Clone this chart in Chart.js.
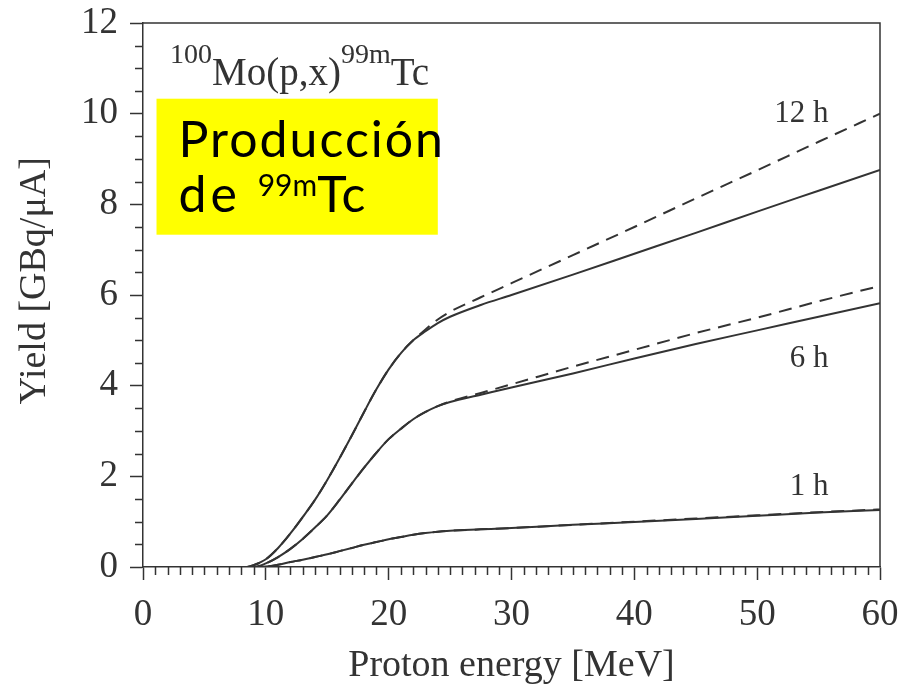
<!DOCTYPE html>
<html>
<head>
<meta charset="utf-8">
<script src="https://cdn.jsdelivr.net/npm/chart.js@4.4.1/dist/chart.umd.min.js"></script>
<style>
  html, body { margin: 0; padding: 0; background: #fff; }
  #wrap { width: 920px; height: 689px; }
</style>
</head>
<body>
<div id="wrap"><canvas id="chart" width="920" height="689"></canvas></div>
<script>
// proton energy grid [MeV]
const energy = [8.5, 9, 10, 11, 12, 13, 14, 15, 16, 17, 18, 19, 20, 21, 22, 23, 24, 25, 27.5, 30, 35, 40, 45, 50, 55, 60];

// yields [GBq/uA]
const solid12h  = [0, 0.04, 0.17, 0.42, 0.74, 1.1, 1.48, 1.92, 2.4, 2.9, 3.42, 3.92, 4.36, 4.72, 5.0, 5.2, 5.38, 5.52, 5.78, 6.0, 6.45, 6.91, 7.37, 7.84, 8.3, 8.76];
const dashed12h = [0, 0.04, 0.17, 0.42, 0.74, 1.1, 1.48, 1.92, 2.4, 2.9, 3.42, 3.92, 4.36, 4.72, 5.0, 5.24, 5.46, 5.63, 5.95, 6.26, 6.88, 7.5, 8.13, 8.75, 9.38, 10.0];
const solid6h   = [0, 0, 0.08, 0.22, 0.4, 0.62, 0.87, 1.14, 1.48, 1.84, 2.19, 2.52, 2.82, 3.05, 3.26, 3.42, 3.55, 3.64, 3.8, 3.96, 4.27, 4.6, 4.92, 5.22, 5.52, 5.82];
const dashed6h  = [0, 0, 0.08, 0.22, 0.4, 0.62, 0.87, 1.14, 1.48, 1.84, 2.19, 2.52, 2.82, 3.05, 3.26, 3.42, 3.55, 3.65, 3.84, 4.03, 4.42, 4.79, 5.16, 5.5, 5.86, 6.2];
const solid1h   = [0, 0, 0.01, 0.05, 0.11, 0.16, 0.22, 0.28, 0.35, 0.42, 0.49, 0.55, 0.61, 0.66, 0.71, 0.75, 0.78, 0.8, 0.83, 0.86, 0.93, 0.99, 1.06, 1.13, 1.2, 1.26];
const dashed1h  = [0, 0, 0.01, 0.05, 0.11, 0.16, 0.22, 0.28, 0.35, 0.42, 0.49, 0.55, 0.61, 0.66, 0.71, 0.75, 0.78, 0.8, 0.83, 0.86, 0.93, 1.0, 1.07, 1.14, 1.21, 1.27];

// curve labels
const curveLabels = ['12 h', '6 h', '1 h'];
const curveLabelX = [55.8, 55.8, 55.8];
const curveLabelY = [9.81, 4.42, 1.59];

const ink = '#333';
const serif = "'Liberation Serif', 'Times New Roman', serif";
const sans = "Lato, 'Noto Sans', sans-serif";

function toPoints(ys) {
  return energy.map((x, i) => ({ x, y: ys[i] }));
}

function line(data, dashed) {
  return {
    data: toPoints(data),
    borderColor: ink,
    borderWidth: 2,
    borderDash: dashed ? [13, 8] : [],
    pointRadius: 0,
    fill: false,
    cubicInterpolationMode: 'monotone',
  };
}

// draw a run of text pieces, some raised as superscripts
function drawRuns(ctx, x, y, runs) {
  runs.forEach(r => {
    ctx.font = r.font;
    ctx.letterSpacing = r.spacing || '0px';
    ctx.fillText(r.text, x, y - (r.rise || 0));
    x += ctx.measureText(r.text).width;
  });
  ctx.letterSpacing = '0px';
}

const decorations = {
  id: 'decorations',
  afterDraw(chart) {
    const { ctx, chartArea: a, scales: { x, y } } = chart;
    ctx.save();
    ctx.strokeStyle = ink;
    ctx.lineWidth = 1.5;

    // top and right frame
    ctx.beginPath();
    ctx.moveTo(a.left, a.top);
    ctx.lineTo(a.right, a.top);
    ctx.lineTo(a.right, a.bottom);
    ctx.stroke();

    // minor ticks
    ctx.beginPath();
    for (let v = 1; v < 60; v++) {
      if (v % 10 === 0) continue;
      const px = Math.round(x.getPixelForValue(v)) + 0.5;
      ctx.moveTo(px, a.bottom);
      ctx.lineTo(px, a.bottom + 8);
    }
    for (let v = 0.5; v < 12; v += 0.5) {
      if (v % 2 === 0) continue;
      const py = Math.round(y.getPixelForValue(v)) + 0.5;
      ctx.moveTo(a.left - 8, py);
      ctx.lineTo(a.left, py);
    }
    ctx.stroke();

    // reaction label
    ctx.fillStyle = ink;
    ctx.textBaseline = 'alphabetic';
    drawRuns(ctx, x.getPixelForValue(2.2), y.getPixelForValue(10.63), [
      { text: '100', font: `28px ${serif}`, rise: 22 },
      { text: 'Mo(p,x)', font: `39px ${serif}` },
      { text: '99m', font: `28px ${serif}`, rise: 22 },
      { text: 'Tc', font: `39px ${serif}` },
    ]);

    // curve labels
    ctx.textAlign = 'right';
    ctx.font = `31px ${serif}`;
    curveLabels.forEach((t, i) => {
      ctx.fillText(t, x.getPixelForValue(curveLabelX[i]), y.getPixelForValue(curveLabelY[i]));
    });
    ctx.textAlign = 'left';

    // yellow box
    const bx = x.getPixelForValue(1.1), by = y.getPixelForValue(10.33);
    const bw = x.getPixelForValue(24.0) - bx, bh = y.getPixelForValue(7.33) - by;
    ctx.fillStyle = '#ffff00';
    ctx.fillRect(bx, by, bw, bh);

    ctx.fillStyle = '#000';
    drawRuns(ctx, bx + 22, by + 58, [{ text: 'Producción', font: `50px ${sans}`, spacing: '2px' }]);
    drawRuns(ctx, bx + 22, by + 113, [
      { text: 'de ', font: `50px ${sans}`, spacing: '4px' },
      { text: '99m', font: `30px ${sans}`, rise: 16 },
      { text: 'Tc', font: `50px ${sans}`, spacing: '1px' },
    ]);
    ctx.restore();
  }
};

new Chart(document.getElementById('chart'), {
  type: 'line',
  data: {
    datasets: [
      line(solid12h, false),
      line(dashed12h, true),
      line(solid6h, false),
      line(dashed6h, true),
      line(solid1h, false),
      line(dashed1h, true),
    ]
  },
  options: {
    responsive: false,
    animation: false,
    layout: { padding: { top: 23, right: 40, left: 0, bottom: 0 } },
    plugins: {
      legend: { display: false },
      tooltip: { enabled: false },
    },
    scales: {
      x: {
        type: 'linear',
        min: 0,
        max: 60,
        ticks: {
          stepSize: 10,
          color: ink,
          padding: 13,
          maxRotation: 0,
          font: { family: serif, size: 37 },
        },
        grid: {
          drawOnChartArea: false,
          drawTicks: true,
          tickLength: 13,
          tickColor: ink,
          tickWidth: 1.5,
        },
        border: { display: true, color: ink, width: 1.5 },
        title: {
          display: true,
          text: 'Proton energy [MeV]',
          color: ink,
          font: { family: serif, size: 38 },
          padding: { top: 0, bottom: 0 },
        },
        afterFit(scale) {
          scale.height = 122;
          scale.paddingLeft = 0;
          scale.paddingRight = 0;
        },
      },
      y: {
        min: 0,
        max: 12,
        ticks: {
          stepSize: 2,
          color: ink,
          padding: 12,
          font: { family: serif, size: 37 },
        },
        grid: {
          drawOnChartArea: false,
          drawTicks: true,
          tickLength: 13,
          tickColor: ink,
          tickWidth: 1.5,
        },
        border: { display: true, color: ink, width: 1.5 },
        title: {
          display: true,
          text: '   Yield [GBq/μA]',
          color: ink,
          font: { family: serif, size: 38 },
          padding: { top: 12, bottom: 0 },
        },
        afterFit(scale) {
          scale.width = 143;
          scale.paddingTop = 0;
          scale.paddingBottom = 0;
        },
      }
    }
  },
  plugins: [decorations]
});
</script>
</body>
</html>
